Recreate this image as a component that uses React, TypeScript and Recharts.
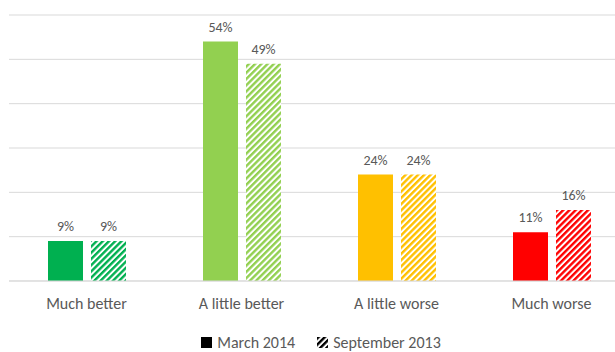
import { BarChart, Bar, XAxis, YAxis, CartesianGrid, Legend, LabelList, Cell } from 'recharts';

const categories = ['Much better', 'A little better', 'A little worse', 'Much worse'];
const march2014 = [9, 54, 24, 11];
const september2013 = [9, 49, 24, 16];
const colors = ['#00b050', '#92d050', '#ffc000', '#ff0000'];
const yTicks = [0, 10, 20, 30, 40, 50, 60];

const data = categories.map((name, i) => ({
  name,
  march: march2014[i],
  september: september2013[i],
}));

const FONT = 'Carlito, "Liberation Sans", Arial, sans-serif';

function HatchDefs() {
  return (
    <defs>
      {colors.concat(['#000000']).map((c, i) => (
        <pattern
          key={i}
          id={`hatch-${i}`}
          patternUnits="userSpaceOnUse"
          width={4.4}
          height={4.4}
          patternTransform="rotate(45)"
        >
          <rect width={4.4} height={4.4} fill="#ffffff" />
          <rect width={2.4} height={4.4} fill={c} />
        </pattern>
      ))}
    </defs>
  );
}

function LegendContent() {
  return (
    <div style={{ display: 'flex', justifyContent: 'center', alignItems: 'center', fontFamily: FONT, fontSize: 16, color: '#595959', paddingTop: 11, paddingLeft: 4 }}>
      <svg width={11} height={11} style={{ marginRight: 5 }}>
        <rect width={11} height={11} fill="#000" />
      </svg>
      <span style={{ marginRight: 22 }}>March 2014</span>
      <svg width={11} height={11} style={{ marginRight: 5 }}>
        <rect width={11} height={11} fill="url(#hatch-4)" />
      </svg>
      <span>September 2013</span>
    </div>
  );
}

export default function App() {
  return (
    <div style={{ position: 'absolute', left: 0, top: 0, width: 615, height: 352, overflow: 'hidden', background: '#fff' }}>
      <BarChart
        width={640}
        height={352}
        data={data}
        margin={{ top: 15, right: 11, left: 9, bottom: 0 }}
        barGap={8}
        barSize={35}
      >
        <HatchDefs />
        <CartesianGrid vertical={false} stroke="#d9d9d9" />
        <XAxis
          dataKey="name"
          height={41}
          axisLine={{ stroke: '#d9d9d9' }}
          tickLine={false}
          tickMargin={11}
          tick={{ fill: '#595959', fontSize: 16, fontFamily: FONT }}
        />
        <YAxis hide domain={[0, 60]} ticks={yTicks} />
        <Legend verticalAlign="bottom" height={30} content={<LegendContent />} />
        <Bar dataKey="march" fill="#000" isAnimationActive={false}>
          {data.map((_, i) => (
            <Cell key={i} fill={colors[i]} />
          ))}
          <LabelList dataKey="march" position="top" offset={10} formatter={(v: any) => `${v}%`} fill="#595959" fontSize={14} fontFamily={FONT} />
        </Bar>
        <Bar dataKey="september" fill="url(#hatch-4)" isAnimationActive={false}>
          {data.map((_, i) => (
            <Cell key={i} fill={`url(#hatch-${i})`} />
          ))}
          <LabelList dataKey="september" position="top" offset={10} formatter={(v: any) => `${v}%`} fill="#595959" fontSize={14} fontFamily={FONT} />
        </Bar>
      </BarChart>
    </div>
  );
}
